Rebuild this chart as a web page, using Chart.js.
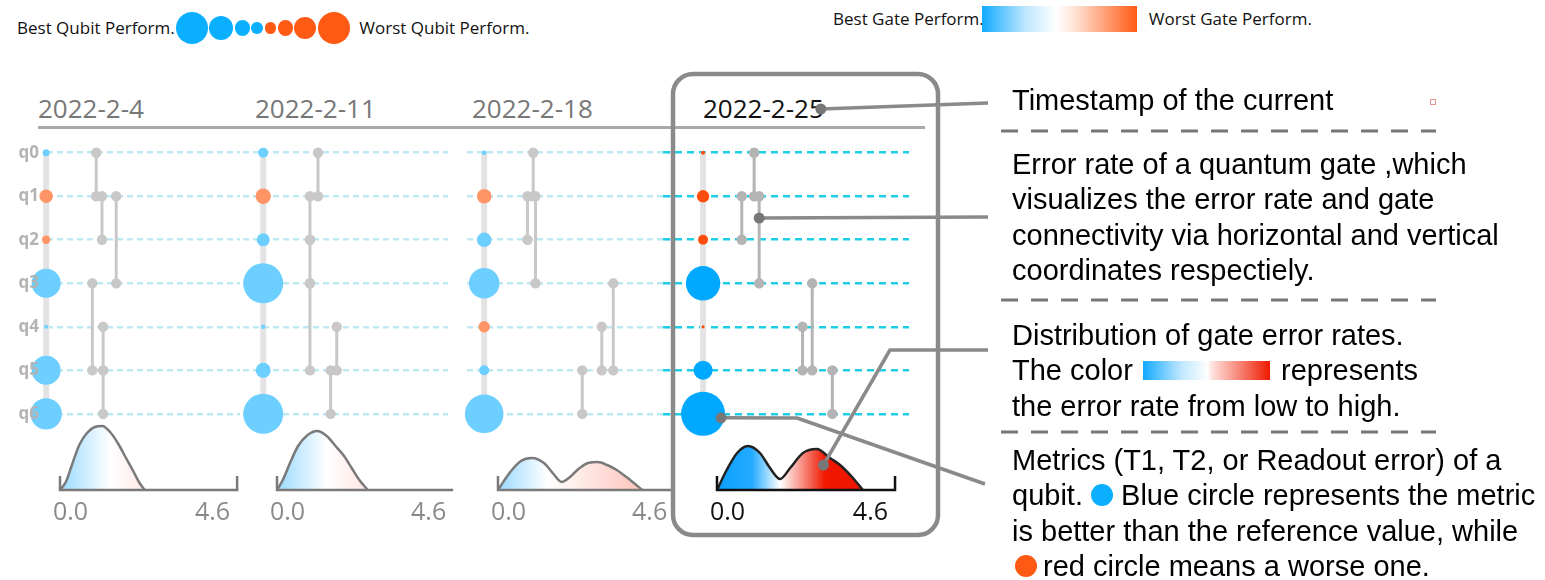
<!DOCTYPE html>
<html lang="en">
<head>
<meta charset="utf-8">
<title>Qubit and gate performance by week</title>
<script src="https://cdn.jsdelivr.net/npm/chart.js@4.4.0/dist/chart.umd.min.js"></script>
<style>
  html, body { margin: 0; padding: 0; background: #fff; }
  #stage { position: relative; width: 1545px; height: 580px; overflow: hidden; font-family: "Open Sans", "Noto Sans", sans-serif; }
  #stage canvas { position: absolute; left: 0; top: 0; }
  .abs { position: absolute; white-space: nowrap; }
  .legend { display: flex; align-items: center; height: 20px; font-size: 17px; line-height: 20px; color: #111; }
  .legend .blob { border-radius: 50%; flex: none; margin-right: 1.5px; }
  .legend .bar { width: 155px; height: 26px; flex: none;
    background: linear-gradient(to right, #12aaff 0%, #bfe7ff 28%, #ffffff 48%, #ffdccc 62%, #ff5a14 100%); }
  .date { font-size: 26px; line-height: 30px; color: #777; }
  .rule { position: absolute; left: 38px; top: 126px; width: 887px; height: 2.5px; background: #a8a8a8; }
  .note { font-family: "Liberation Sans", Arial, sans-serif; font-size: 29px; line-height: 35.4px; color: #000; }
  .note .swatch { display: inline-block; width: 127px; height: 19px; margin: 0 3px 0 2px; vertical-align: 0;
    background: linear-gradient(to right, #12aaff 0%, #bfe7ff 30%, #ffffff 51%, #ffe4e0 54%, #ee1a00 100%); }
  .note .dot { display: inline-block; width: 22px; height: 22px; border-radius: 50%; vertical-align: -1px; }
  .marker { position: absolute; left: 1430px; top: 99px; width: 4px; height: 4px; border: 1px solid #f09090; }
</style>
</head>
<body>
<div id="stage">
  <div class="abs legend" style="left:17px; top:18px;">
    <span>Best Qubit Perform.</span><span id="qubit-scale" style="display:flex;align-items:center;margin:0 8px 0 1px;"></span><span>Worst Qubit Perform.</span>
  </div>
  <div class="abs legend" style="left:833px; top:9px;">
    <span>Best Gate Perform.</span><span class="bar" style="margin:0 12px 0 -2px;"></span><span>Worst Gate Perform.</span>
  </div>

  <div class="abs date" id="date-0" style="left:38px; top:93px;"></div>
  <div class="abs date" id="date-1" style="left:255px; top:93px;"></div>
  <div class="abs date" id="date-2" style="left:472px; top:93px;"></div>
  <div class="abs date" id="date-3" style="left:703px; top:93px; color:#111;"></div>
  <div class="rule"></div>

  <canvas id="week-0" width="1545" height="580"></canvas>
  <canvas id="week-1" width="1545" height="580"></canvas>
  <canvas id="week-2" width="1545" height="580"></canvas>
  <canvas id="week-3" width="1545" height="580"></canvas>

  <div class="abs note" style="left:1012px; top:83px;">Timestamp of the current</div>
  <div class="abs note" style="left:1012px; top:147px;">Error rate of a quantum gate ,which<br>visualizes the error rate and gate<br>connectivity via horizontal and vertical<br>coordinates respectiely.</div>
  <div class="abs note" style="left:1012px; top:318px;">Distribution of gate error rates.<br>The color <span class="swatch"></span> represents<br>the error rate from low to high.</div>
  <div class="abs note" style="left:1012px; top:443px;">Metrics (T1, T2, or Readout error) of a<br>qubit. <span class="dot" style="background:#0ab0ff;"></span> Blue circle represents the metric<br>is better than the reference value, while<br><span class="dot" style="background:#ff5a14;margin:0 6px 0 3px;"></span>red circle means a worse one.</div>
  <div class="marker"></div>
</div>

<script>
// ---- data ----
const qubits = ['q0', 'q1', 'q2', 'q3', 'q4', 'q5', 'q6'];
const dates = ['2022-2-4', '2022-2-11', '2022-2-18', '2022-2-25'];
const errorAxisTicks = [0, 4.6];

// qubit metric magnitude (drawn as bubble radius)
const metricWeek1 = [3.5, 6.7, 4.2, 14.5, 2, 14.5, 15.7];
const metricWeek2 = [5, 7.7, 6.5, 20, 2.2, 7.5, 20];
const metricWeek3 = [2.3, 7.3, 7.3, 15.3, 5.7, 5, 19.3];
const metricWeek4 = [2, 6.2, 5, 17.2, 1.6, 9.5, 22];

// 1 = better than the reference value, 0 = worse
const betterWeek1 = [1, 0, 0, 1, 1, 1, 1];
const betterWeek2 = [1, 0, 1, 1, 1, 1, 1];
const betterWeek3 = [1, 0, 1, 1, 0, 1, 1];
const betterWeek4 = [0, 0, 0, 1, 0, 1, 1];

// two-qubit gates: [error rate, qubit a, qubit b]
const gatesWeek1 = [[0.94, 0, 1], [1.09, 1, 2], [1.46, 1, 3], [0.84, 3, 5], [1.12, 4, 5], [1.12, 5, 6]];
const gatesWeek2 = [[1.07, 0, 1], [0.86, 1, 2], [0.86, 2, 3], [0.86, 3, 5], [1.56, 4, 5], [1.40, 5, 6]];
const gatesWeek3 = [[0.92, 0, 1], [0.77, 1, 2], [0.98, 1, 3], [3.01, 3, 5], [2.71, 4, 5], [2.20, 5, 6]];
const gatesWeek4 = [[0.96, 0, 1], [0.64, 1, 2], [1.09, 1, 3], [2.46, 3, 5], [2.21, 4, 5], [2.98, 5, 6]];

// gate error rate density: [error rate, density]
const densityWeek1 = [[0, 0], [0.15, 0.08], [0.3, 0.24], [0.5, 0.45], [0.7, 0.57], [0.9, 0.63], [1.1, 0.64],
  [1.3, 0.58], [1.5, 0.47], [1.7, 0.33], [1.9, 0.19], [2.05, 0.08], [2.2, 0]];
const densityWeek2 = [[0, 0], [0.15, 0.1], [0.35, 0.28], [0.55, 0.44], [0.8, 0.55], [1.05, 0.59], [1.3, 0.54],
  [1.55, 0.43], [1.75, 0.34], [1.95, 0.22], [2.15, 0.1], [2.37, 0]];
const densityWeek3 = [[0, 0], [0.3, 0.17], [0.6, 0.29], [0.88, 0.32], [1.2, 0.27], [1.45, 0.16], [1.66, 0.08],
  [1.85, 0.12], [2.1, 0.21], [2.35, 0.27], [2.6, 0.28], [2.85, 0.25], [3.1, 0.2], [3.45, 0.1], [3.77, 0]];
const densityWeek4 = [[0, 0], [0.25, 0.2], [0.52, 0.37], [0.8, 0.44], [1.11, 0.37], [1.37, 0.22], [1.63, 0.11],
  [1.89, 0.22], [2.22, 0.37], [2.58, 0.41], [2.92, 0.32], [3.18, 0.25], [3.49, 0.13], [3.77, 0]];

// legend bubbles, best -> worst
const legendSizes = [16, 12, 7.6, 5.8, 5.8, 7.6, 11, 16];
const legendBetter = [1, 1, 1, 1, 0, 0, 0, 0];

const weeks = [
  { metric: metricWeek1, better: betterWeek1, gates: gatesWeek1, density: densityWeek1 },
  { metric: metricWeek2, better: betterWeek2, gates: gatesWeek2, density: densityWeek2 },
  { metric: metricWeek3, better: betterWeek3, gates: gatesWeek3, density: densityWeek3 },
  { metric: metricWeek4, better: betterWeek4, gates: gatesWeek4, density: densityWeek4 },
];

// ---- layout (page pixels) ----
const panelLayout = [
  { left: 47, right: 240, xMin: -0.338, xMax: 4.675 },
  { left: 243, right: 448, xMin: -0.888, xMax: 4.465 },
  { left: 467, right: 672, xMin: -0.809, xMax: 4.543 },
  { left: 663, right: 909, xMin: -1.395, xMax: 4.961 },
];
const qubitColumn = -0.36;   // x position of the qubit bubbles on the error axis
const labelAxisWidth = 40;

const fadedStyle = {
  blue: '#6dcfff', orange: '#ff9466', gate: '#c8c8c8', dash: '#bde9f2', dashPattern: [6, 4],
  curve: '#7a7a7a', tick: '#8a8a8a', bracket: '#7a7a7a',
  fill: [[0, '#9ad9ff'], [1.3, '#ffffff'], [3.8, '#ffc3bb'], [4.6, '#ffbcb2']],
};
const currentStyle = {
  blue: '#00a8ff', orange: '#ff4d0d', gate: '#b4b4b4', dash: '#1ecde6', dashPattern: [7, 5],
  curve: '#222222', tick: '#111111', bracket: '#111111',
  fill: [[0, '#0aa0ff'], [0.9, '#22aaff'], [1.63, '#ffffff'], [2.8, '#f01800'], [4.6, '#ee1100']],
};

// legend bubbles
const scaleBox = document.getElementById('qubit-scale');
legendSizes.forEach((r, i) => {
  const s = document.createElement('span');
  s.className = 'blob';
  s.style.width = s.style.height = (2 * r) + 'px';
  s.style.background = legendBetter[i] ? '#0ab0ff' : '#ff5a14';
  scaleBox.appendChild(s);
});
dates.forEach((d, i) => { document.getElementById('date-' + i).textContent = d; });

function densityGradient(chart, stops) {
  const { ctx, chartArea, scales } = chart;
  if (!chartArea) return stops[0][1];
  const x0 = scales.x.getPixelForValue(errorAxisTicks[0]);
  const x1 = scales.x.getPixelForValue(errorAxisTicks[1]);
  const g = ctx.createLinearGradient(x0, 0, x1, 0);
  stops.forEach(([v, c]) => g.addColorStop(Math.min(1, v / errorAxisTicks[1]), c));
  return g;
}

function roundedRect(ctx, x, y, w, h, r) {
  ctx.beginPath();
  ctx.moveTo(x + r, y);
  ctx.arcTo(x + w, y, x + w, y + h, r);
  ctx.arcTo(x + w, y + h, x, y + h, r);
  ctx.arcTo(x, y + h, x, y, r);
  ctx.arcTo(x, y, x + w, y, r);
  ctx.closePath();
}

// frame around the current week plus callout lines to the notes
const calloutPlugin = {
  id: 'callouts',
  afterDraw(chart) {
    const { ctx, scales: { x, y, yd } } = chart;
    ctx.save();
    ctx.lineWidth = 4.5;
    ctx.strokeStyle = '#8a8a8a';
    roundedRect(ctx, 673, 74, 265, 461, 20);
    ctx.stroke();

    ctx.setLineDash([17, 13]);
    ctx.lineWidth = 3;
    ctx.strokeStyle = '#777';
    for (const sy of [131, 300, 432]) {
      ctx.beginPath(); ctx.moveTo(1001, sy); ctx.lineTo(1436, sy); ctx.stroke();
    }
    ctx.setLineDash([]);

    const title = document.getElementById('date-3').getBoundingClientRect();
    const callouts = [
      { from: [title.right - 3, title.top + title.height / 2 + 1], path: [[988, 103]] },
      { from: [x.getPixelForValue(gatesWeek4[2][0]), y.getPixelForValue(1.5)], path: [[988, 217]] },
      { from: [x.getPixelForValue(2.75), yd.getPixelForValue(0.25)], path: [[890, 350], [988, 350]] },
      { from: [x.getPixelForValue(qubitColumn) + 18, y.getPixelForValue(6) + 4], path: [[797, 418], [985, 484]] },
    ];
    ctx.strokeStyle = '#8a8a8a';
    ctx.lineWidth = 3.5;
    ctx.lineJoin = 'round';
    for (const c of callouts) {
      ctx.beginPath();
      ctx.moveTo(c.from[0], c.from[1]);
      c.path.forEach(p => ctx.lineTo(p[0], p[1]));
      ctx.stroke();
    }
    ctx.fillStyle = '#777';
    for (const c of callouts) {
      ctx.beginPath(); ctx.arc(c.from[0], c.from[1], 5.5, 0, Math.PI * 2); ctx.fill();
    }
    ctx.restore();
  }
};

function renderWeek(index) {
  const week = weeks[index];
  const box = panelLayout[index];
  const isCurrent = index === weeks.length - 1;
  const style = isCurrent ? currentStyle : fadedStyle;
  const showLabels = index === 0;

  const datasets = [];

  datasets.push({
    type: 'bubble',
    data: qubits.map((q, i) => ({ x: qubitColumn, y: i, r: week.metric[i] })),
    backgroundColor: week.better.map(b => b ? style.blue : style.orange),
    borderWidth: 0,
    clip: false,
    order: 1,
  });

  week.gates.forEach(([rate, a, b]) => {
    datasets.push({
      type: 'line',
      data: [{ x: rate, y: a }, { x: rate, y: b }],
      borderColor: style.gate,
      backgroundColor: style.gate,
      borderWidth: 3,
      pointRadius: 5.2,
      pointBorderWidth: 0,
      clip: false,
      order: 2,
    });
  });

  datasets.push({
    type: 'line',
    data: [{ x: qubitColumn, y: 0 }, { x: qubitColumn, y: qubits.length - 1 }],
    borderColor: '#e3e3e3',
    borderWidth: 6,
    pointRadius: 0,
    clip: false,
    order: 3,
  });

  datasets.push({
    type: 'line',
    yAxisID: 'yd',
    data: [
      { x: errorAxisTicks[0], y: 0.14 }, { x: errorAxisTicks[0], y: 0 },
      { x: errorAxisTicks[1], y: 0 }, { x: errorAxisTicks[1], y: 0.14 },
    ],
    borderColor: style.bracket,
    borderWidth: 2.5,
    pointRadius: 0,
    clip: false,
    order: 4,
  });

  datasets.push({
    type: 'line',
    yAxisID: 'yd',
    data: week.density.map(([x, d]) => ({ x, y: d })),
    borderColor: style.curve,
    borderWidth: 2.5,
    pointRadius: 0,
    cubicInterpolationMode: 'monotone',
    fill: 'origin',
    backgroundColor: (c) => densityGradient(c.chart, style.fill),
    clip: false,
    order: 5,
  });

  return new Chart(document.getElementById('week-' + index), {
    type: 'scatter',
    data: { datasets },
    options: {
      responsive: false,
      animation: false,
      events: [],
      layout: {
        padding: {
          left: showLabels ? box.left - labelAxisWidth : box.left,
          right: 1545 - box.right,
          top: 131,
          bottom: 45,
        }
      },
      plugins: { legend: { display: false }, tooltip: { enabled: false } },
      scales: {
        x: {
          type: 'linear',
          min: box.xMin,
          max: box.xMax,
          position: 'bottom',
          afterFit: s => { s.height = 45; },
          afterBuildTicks: s => { s.ticks = errorAxisTicks.map(v => ({ value: v })); },
          grid: { display: false },
          border: { display: false },
          ticks: {
            align: 'inner',
            labelOffset: -7,
            maxRotation: 0,
            autoSkip: false,
            padding: 0,
            color: style.tick,
            font: { family: 'Open Sans', size: 25 },
            callback: v => Number(v).toFixed(1),
          },
        },
        y: {
          type: 'linear',
          min: -0.5,
          max: 7.75,
          reverse: true,
          position: 'left',
          afterFit: s => { s.width = showLabels ? labelAxisWidth : 0; },
          afterBuildTicks: s => { s.ticks = qubits.map((q, i) => ({ value: i })); },
          grid: { color: style.dash, lineWidth: 2.6, drawTicks: false },
          border: { display: false, dash: style.dashPattern },
          ticks: {
            display: showLabels,
            z: 1,
            padding: 8,
            color: '#b3b3b3',
            font: { family: 'Open Sans', size: 17, weight: 'bold' },
            callback: v => qubits[v],
          },
        },
        yd: { type: 'linear', min: 0, max: 3.59, display: false },
      },
    },
    plugins: isCurrent ? [calloutPlugin] : [],
  });
}

weeks.forEach((w, i) => renderWeek(i));
</script>
</body>
</html>
